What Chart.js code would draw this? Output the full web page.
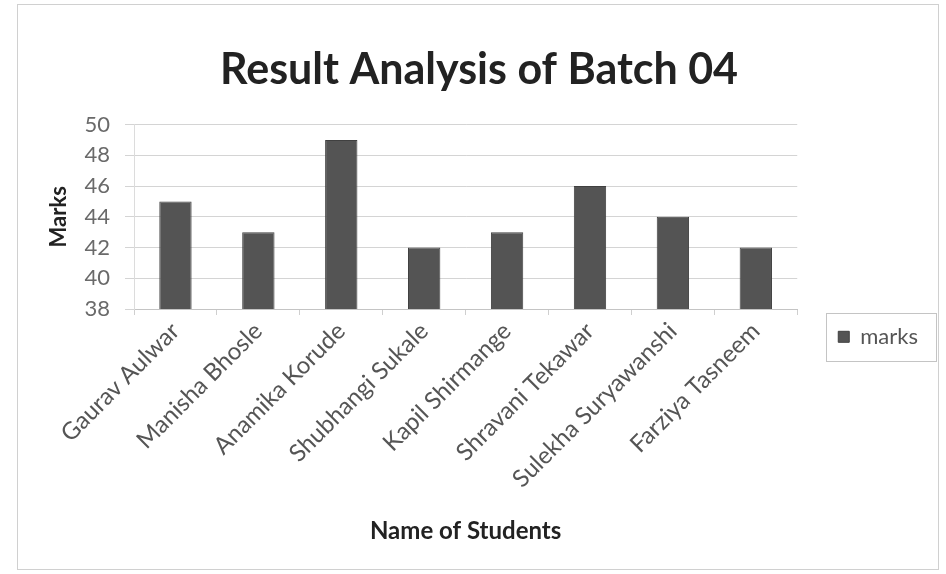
<!DOCTYPE html>
<html>
<head>
<meta charset="utf-8">
<script src="https://cdn.jsdelivr.net/npm/chart.js@4.4.0/dist/chart.umd.min.js"></script>
<style>
    html, body { margin: 0; padding: 0; background: #ffffff; }
    #wrap { position: relative; width: 946px; height: 574px; }
    #frame { position: absolute; left: 17px; top: 4px; width: 920px; height: 564px; border: 1px solid #d0d0d0; }
    #result-chart { position: absolute; left: 0; top: 0; }
</style>
</head>
<body>
<div id="wrap">
    <div id="frame"></div>
    <canvas id="result-chart" width="946" height="574"></canvas>
</div>
<script>
// data
var students = ["Gaurav Aulwar", "Manisha Bhosle", "Anamika Korude", "Shubhangi Sukale",
                "Kapil Shirmange", "Shravani Tekawar", "Sulekha Suryawanshi", "Farziya Tasneem"];
var marks = [45, 43, 49, 42, 43, 46, 44, 42];
var yTicks = [38, 40, 42, 44, 46, 48, 50];

Chart.defaults.font.family = "Lato, 'Open Sans', sans-serif";
Chart.defaults.color = "#5a5a5a";

// box round the legend entry
var legendBox = {
    id: 'legendBox',
    afterDraw: function(chart) {
        var hb = chart.legend.legendHitBoxes[0];
        if (!hb) return;
        var ctx = chart.ctx;
        var cy = hb.top + hb.height / 2;
        ctx.save();
        ctx.strokeStyle = "#c4c4c4";
        ctx.lineWidth = 1;
        ctx.strokeRect(Math.round(hb.left - 12) + 0.5, Math.round(cy - 24) + 0.5, 110, 48);
        ctx.restore();
    }
};

var ctx1 = document.getElementById("result-chart");
var myChart = new Chart(ctx1, {
    type: "bar",
    data: {
        labels: students,
        datasets: [{
            label: "marks",
            data: marks,
            backgroundColor: "#545454",
            borderColor: "#404040",
            borderWidth: 1,
            categoryPercentage: 1.0,
            barPercentage: 0.39
        }]
    },
    options: {
        responsive: false,
        animation: false,
        layout: { padding: { left: 30, right: 18, top: 0, bottom: 28 } },
        plugins: {
            title: {
                display: true,
                text: "Result Analysis of Batch 04",
                color: "#222222",
                font: { size: 43, weight: "bold" },
                padding: { top: 44, bottom: 29 }
            },
            legend: {
                position: "right",
                // empty legend title only pushes the entry down
                title: {
                    display: true,
                    text: " ",
                    font: { size: 23 },
                    padding: { top: 100, bottom: 0 }
                },
                labels: {
                    boxWidth: 11,
                    boxHeight: 11,
                    color: "#555555",
                    font: { size: 22 },
                    padding: 41
                }
            },
            tooltip: { enabled: false }
        },
        scales: {
            x: {
                afterFit: function(axis) { axis.height = 237; },
                grid: {
                    offset: true,
                    drawOnChartArea: false,
                    drawTicks: true,
                    tickLength: 6,
                    color: "#cfcfcf"
                },
                border: { color: "#c4c4c4" },
                ticks: {
                    maxRotation: 45,
                    minRotation: 45,
                    color: "#555555",
                    font: { size: 24 },
                    padding: 2
                },
                title: {
                    display: true,
                    text: "Name of Students",
                    color: "#222222",
                    font: { size: 24, weight: "bold" },
                    padding: { top: 0, bottom: 0 }
                }
            },
            y: {
                min: 38,
                max: 50,
                afterFit: function(axis) { axis.width = 104; },
                afterBuildTicks: function(axis) {
                    axis.ticks = yTicks.map(function(v) { return { value: v }; });
                },
                grid: { color: "#d4d4d4", tickLength: 9 },
                border: { display: true, color: "#dcdcdc" },
                ticks: {
                    color: "#6a6a6a",
                    font: { size: 22 },
                    padding: 15
                },
                title: {
                    display: true,
                    text: "Marks",
                    color: "#222222",
                    font: { size: 22, weight: "bold" },
                    padding: { top: 16, bottom: 0 }
                }
            }
        }
    },
    plugins: [legendBox]
});
</script>
</body>
</html>
